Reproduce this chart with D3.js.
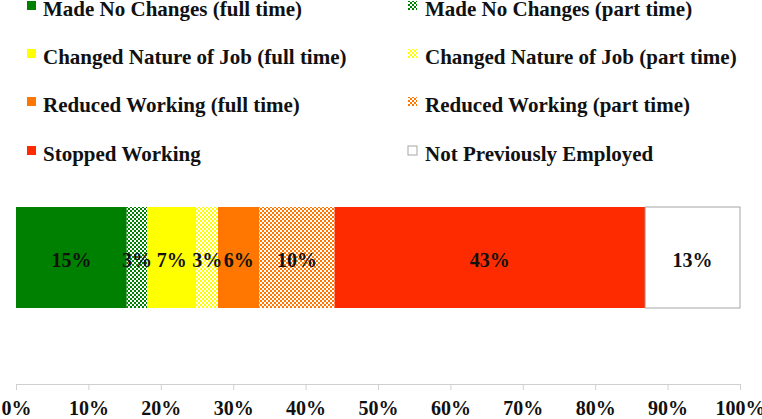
<!DOCTYPE html>
<html>
<head>
<meta charset="utf-8">
<script src="https://cdn.jsdelivr.net/npm/d3@7"></script>
<style>
  html, body { margin: 0; padding: 0; background: #fff; }
  svg { display: block; }
  text { font-family: "Liberation Serif", "Times New Roman", serif; font-weight: bold; fill: #111; }
</style>
</head>
<body>
<svg id="chart" width="762" height="419"></svg>
<script>
// ---- data ----
const categories = [
  "Made No Changes (full time)",
  "Made No Changes (part time)",
  "Changed Nature of Job (full time)",
  "Changed Nature of Job (part time)",
  "Reduced Working (full time)",
  "Reduced Working (part time)",
  "Stopped Working",
  "Not Previously Employed"
];
const values = [15.3, 2.8, 6.8, 3.0, 5.7, 10.4, 42.9, 13.1];
const baseColors = ["#008000", "#008000", "#FFFF00", "#FFFF00", "#FF7700", "#FF7700", "#FF2B00", "#FFFFFF"];
const patterned = [false, true, false, true, false, true, false, false];
const tickValues = [0, 10, 20, 30, 40, 50, 60, 70, 80, 90, 100];

// ---- layout ----
const svg = d3.select("#chart");
const x = d3.scaleLinear().domain([0, 100]).range([16, 740]);
const y = d3.scaleBand().domain(["All"]).range([207, 308]).paddingInner(0).paddingOuter(0);

// patterns
const defs = svg.append("defs");
categories.forEach((c, i) => {
  if (!patterned[i]) return;
  const p = defs.append("pattern")
    .attr("id", "pat" + i)
    .attr("patternUnits", "userSpaceOnUse")
    .attr("width", 4).attr("height", 4);
  p.append("rect").attr("width", 4).attr("height", 4).attr("fill", "#fff");
  p.append("rect").attr("x", 0).attr("y", 0).attr("width", 2).attr("height", 2).attr("fill", baseColors[i]);
  p.append("rect").attr("x", 2).attr("y", 2).attr("width", 2).attr("height", 2).attr("fill", baseColors[i]);
});
const fillOf = i => patterned[i] ? `url(#pat${i})` : baseColors[i];

// stacked data
let acc = 0;
const segs = values.map((v, i) => { const s = { i, v, x0: acc, x1: acc + v }; acc += v; return s; });

// bars
svg.append("g").selectAll("rect")
  .data(segs).join("rect")
  .attr("x", d => x(d.x0))
  .attr("y", y("All"))
  .attr("width", d => x(d.x1) - x(d.x0))
  .attr("height", y.bandwidth())
  .attr("fill", d => fillOf(d.i))
  .attr("stroke", d => baseColors[d.i] === "#FFFFFF" ? "#a6a6a6" : "none")
  .attr("stroke-width", 1);

// bar labels
const fmt = d3.format(".0f");
svg.append("g").selectAll("text")
  .data(segs).join("text")
  .attr("x", d => (x(d.x0) + x(d.x1)) / 2)
  .attr("y", y("All") + y.bandwidth() / 2 + 9)
  .attr("text-anchor", "middle")
  .attr("font-size", 20)
  .text(d => fmt(d.v) + "%");

// axis
const axis = d3.axisBottom(x).tickValues(tickValues).tickFormat(d => d + "%").tickSize(6).tickSizeOuter(0);
const ax = svg.append("g").attr("transform", "translate(0,384)").call(axis);
ax.select(".domain").attr("stroke", "#d0d0d0");
ax.selectAll(".tick line").attr("stroke", "#d0d0d0");
ax.selectAll(".tick text")
  .attr("y", 31).attr("dy", 0)
  .attr("font-size", 20)
  .attr("font-family", "Liberation Serif, Times New Roman, serif")
  .attr("font-weight", "bold")
  .attr("fill", "#111");

// legend
const legCols = [27, 408];
const legTextX = [43, 425];
const legBase = [16, 64, 112, 161];
const leg = svg.append("g").selectAll("g")
  .data(categories).join("g")
  .attr("transform", (d, i) => `translate(${legCols[i % 2]},${legBase[Math.floor(i / 2)]})`);
leg.append("rect")
  .attr("x", 0).attr("y", -15)
  .attr("width", 9).attr("height", 9)
  .attr("fill", (d, i) => fillOf(i))
  .attr("stroke", (d, i) => baseColors[i] === "#FFFFFF" ? "#a6a6a6" : "none");
leg.append("text")
  .attr("x", (d, i) => legTextX[i % 2] - legCols[i % 2])
  .attr("y", 0)
  .attr("font-size", 21)
  .text(d => d);
</script>
</body>
</html>
